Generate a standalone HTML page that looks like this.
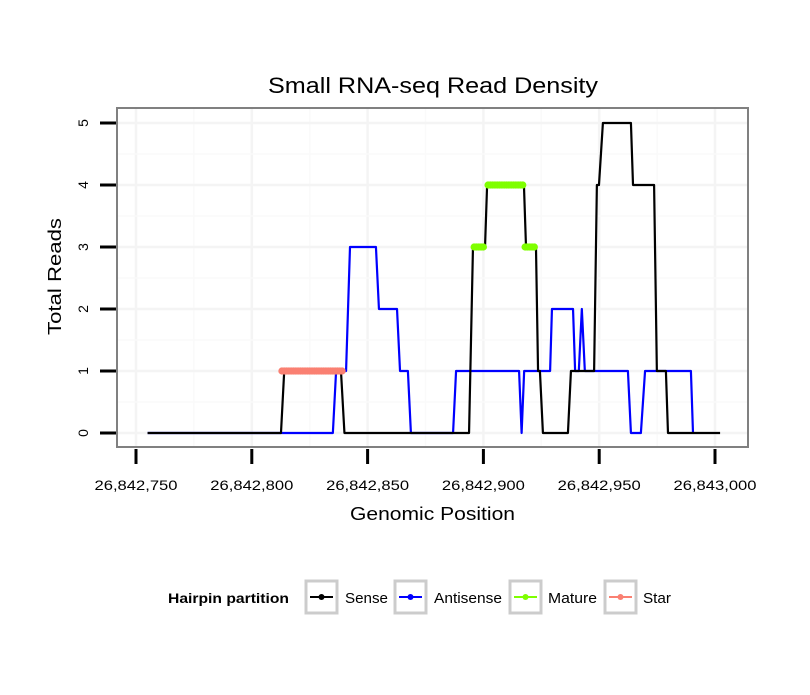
<!DOCTYPE html>
<html><head><meta charset="utf-8"><style>
body{margin:0;background:#fff;}
svg text{font-family:"Liberation Sans",sans-serif;}
</style></head><body>
<svg id="chart" width="810" height="690" xmlns="http://www.w3.org/2000/svg">
<rect x="0" y="0" width="810" height="690" fill="#fff"/>
<text x="268" y="93" font-size="22" textLength="330" lengthAdjust="spacingAndGlyphs">Small RNA-seq Read Density</text>
<g id="grid"></g>
<g id="series"></g>
<rect x="117" y="108" width="631" height="339" fill="none" stroke="#808080" stroke-width="2"/>
<g id="axes"></g>
<text x="350" y="520" font-size="18" textLength="165" lengthAdjust="spacingAndGlyphs">Genomic Position</text>
<text transform="translate(61,335) rotate(-90)" font-size="18" textLength="117" lengthAdjust="spacingAndGlyphs">Total Reads</text>
<g>
<text x="168" y="603" font-size="14" font-weight="bold" textLength="121" lengthAdjust="spacingAndGlyphs">Hairpin partition</text>
<g>
<rect x="306" y="581" width="31" height="32" fill="#fff" stroke="#ccc" stroke-width="3"/>
<line x1="310" y1="597" x2="333" y2="597" stroke="#000" stroke-width="2"/><circle cx="321.5" cy="597" r="3" fill="#000"/>
<text x="345" y="603" font-size="15" textLength="43" lengthAdjust="spacingAndGlyphs">Sense</text></g>
<g>
<rect x="395" y="581" width="31" height="32" fill="#fff" stroke="#ccc" stroke-width="3"/>
<line x1="399" y1="597" x2="422" y2="597" stroke="#00f" stroke-width="2"/><circle cx="410.5" cy="597" r="3" fill="#00f"/>
<text x="434" y="603" font-size="15" textLength="68" lengthAdjust="spacingAndGlyphs">Antisense</text></g>
<g>
<rect x="510" y="581" width="31" height="32" fill="#fff" stroke="#ccc" stroke-width="3"/>
<line x1="514" y1="597" x2="537" y2="597" stroke="#7fff00" stroke-width="2"/><circle cx="525.5" cy="597" r="3" fill="#7fff00"/>
<text x="548" y="603" font-size="15" textLength="49" lengthAdjust="spacingAndGlyphs">Mature</text></g>
<g>
<rect x="605" y="581" width="31" height="32" fill="#fff" stroke="#ccc" stroke-width="3"/>
<line x1="609" y1="597" x2="632" y2="597" stroke="#fa8072" stroke-width="2"/><circle cx="620.5" cy="597" r="3" fill="#fa8072"/>
<text x="643" y="603" font-size="15" textLength="28" lengthAdjust="spacingAndGlyphs">Star</text></g>
</g>
</svg>
<script>
const BASE = 26842750;
const xTicks = [26842750, 26842800, 26842850, 26842900, 26842950, 26843000];
const xTickLabels = ["26,842,750","26,842,800","26,842,850","26,842,900","26,842,950","26,843,000"];
const yTicks = [0,1,2,3,4,5];
const senseOffsets = [5,62.6,64,88.5,90,143.8,145.5,150.7,151.6,167.5,168.4,172.7,173.6,174.4,175.7,186.5,187.8,197.8,199,199.9,201.6,213.7,214.6,223.7,224.9,228.8,229.7,252.2];
const senseValues  = [0,0,1,1,0,0,3,3,4,4,3,3,1,1,0,0,1,1,4,4,5,5,4,4,1,1,0,0];
const antiOffsets = [5,85,86.4,90.7,92.4,103.6,104.9,112.7,114,117.4,118.7,136.9,138.2,165.4,166.5,167.6,178.8,179.6,188.7,189.6,191.2,192.5,193.8,212.4,213.7,218,219.8,239.6,240.5];
const antiValues  = [0,0,1,1,3,3,2,2,1,1,0,0,1,1,0,1,1,2,2,1,1,2,1,1,0,0,1,1,0];
const matureOffsets = [146,147,148,149,150,152,153,154,155,156,157,158,159,160,161,162,163,164,165,166,167,168,169,170,171,172];
const matureValues  = [3,3,3,3,3,4,4,4,4,4,4,4,4,4,4,4,4,4,4,4,4,3,3,3,3,3];
const starOffsets = [63,64,65,66,67,68,69,70,71,72,73,74,75,76,77,78,79,80,81,82,83,84,85,86,87,88,89];
const starValues  = [1,1,1,1,1,1,1,1,1,1,1,1,1,1,1,1,1,1,1,1,1,1,1,1,1,1,1];

const NS="http://www.w3.org/2000/svg";
const xs = p => 136 + (p - BASE) * 2.316;
const ys = v => 433 - v * 62;
function mk(tag, attrs, parent){const e=document.createElementNS(NS,tag);for(const k in attrs)e.setAttribute(k,attrs[k]);parent.appendChild(e);return e;}
const grid=document.getElementById('grid'), axes=document.getElementById('axes'), ser=document.getElementById('series');
for(let i=0;i<xTicks.length;i++){
  const x=xs(xTicks[i]);
  if(x>117&&x<748){const g=mk('line',{x1:x,x2:x,y1:108,y2:447,stroke:'#f4f4f4','stroke-width':2.5},grid);
  
  }
  if(i<xTicks.length-1){const xm=xs((xTicks[i]+xTicks[i+1])/2);
  const g2=mk('line',{x1:xm,x2:xm,y1:108,y2:447,stroke:'#fafafa','stroke-width':1.5},grid);
  
  }
  const t=mk('line',{x1:x,x2:x,y1:449,y2:464,stroke:'#000','stroke-width':3},axes);
  
  
  const l=mk('text',{x:x,y:490,'font-size':14,'text-anchor':'middle',textLength:83,lengthAdjust:'spacingAndGlyphs'},axes);l.textContent=xTickLabels[i];
  
  
}
for(let i=0;i<yTicks.length;i++){
  const y=ys(yTicks[i]);
  const g=mk('line',{x1:117,x2:748,y1:y,y2:y,stroke:'#f4f4f4','stroke-width':2.5},grid);
  
  
  if(i<yTicks.length-1){const ym=ys(yTicks[i]+0.5);
  const g2=mk('line',{x1:117,x2:748,y1:ym,y2:ym,stroke:'#fafafa','stroke-width':1.5},grid);
  
  }
  const t=mk('line',{x1:100,x2:116,y1:y,y2:y,stroke:'#000','stroke-width':3},axes);
  
  
  const l=mk('text',{x:0,y:0,'font-size':14,'text-anchor':'middle',transform:`translate(88,${y}) rotate(-90)`},axes);l.textContent=yTicks[i];
  
  
}
function line(off,vals,color,name){
  const pts=off.map((o,i)=>xs(BASE+o)+','+ys(vals[i])).join(' ');
  const p=mk('polyline',{points:pts,fill:'none',stroke:color,'stroke-width':2.2,'stroke-linejoin':'round'},ser);
  
  
}
function dots(off,vals,color,name){
  off.forEach((o,i)=>{
    const c=mk('circle',{cx:xs(BASE+o),cy:ys(vals[i]),r:3.6,fill:color},ser);
    
    
  });
  for(let i=1;i<off.length;i++){
    if(vals[i]===vals[i-1]&&off[i]-off[i-1]<=1){
      mk('line',{x1:xs(BASE+off[i-1]),x2:xs(BASE+off[i]),y1:ys(vals[i]),y2:ys(vals[i]),stroke:color,'stroke-width':7},ser);
    }
  }
}
line(antiOffsets,antiValues,'#0000ff','antisense-line');
line(senseOffsets,senseValues,'#000000','sense-line');
dots(matureOffsets,matureValues,'#7fff00','mature-point');
dots(starOffsets,starValues,'#fa8072','star-point');
</script>
</body></html>
